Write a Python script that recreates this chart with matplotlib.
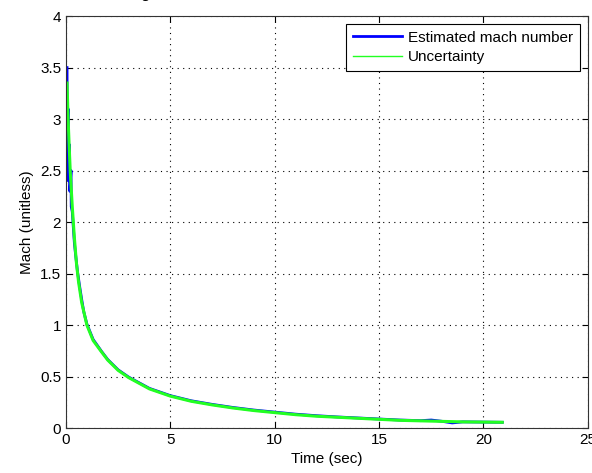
import matplotlib
matplotlib.use('Agg')
import matplotlib.pyplot as plt

plt.rcParams['font.family'] = ['Liberation Sans', 'DejaVu Sans']

# estimated mach number (blue)
t_est = [0.05, 0.06, 0.1, 0.11, 0.17, 0.18, 0.24, 0.25, 0.3, 0.35, 0.4, 0.45, 0.55, 0.65,
         0.75, 0.85, 1.0, 1.3, 1.7, 2.0, 2.5, 3.0, 4.0, 5.0, 6.0, 7.0, 8.0, 9.0, 10.0, 11.0,
         12.0, 13.0, 14.0, 15.0, 16.0, 17.0, 17.5, 18.0, 18.5, 19.0, 20.0, 20.9]
mach_est = [3.5, 2.65, 3.1, 2.4, 2.75, 2.3, 2.5, 2.15, 2.1, 1.95, 1.8, 1.7, 1.52, 1.38,
            1.25, 1.13, 1.01, 0.86, 0.745, 0.665, 0.565, 0.495, 0.385, 0.315, 0.265, 0.23,
            0.2, 0.175, 0.155, 0.135, 0.12, 0.108, 0.098, 0.088, 0.078, 0.072, 0.078, 0.066,
            0.05, 0.06, 0.058, 0.056]

# uncertainty (green)
t_unc = [0.05, 0.1, 0.15, 0.2, 0.3, 0.4, 0.5, 0.6, 0.75, 1.0, 1.3, 1.7, 2.0, 2.5, 3.0, 4.0,
         5.0, 6.0, 7.0, 8.0, 9.0, 10.0, 11.0, 12.0, 13.0, 14.0, 15.0, 16.0, 17.0, 18.0,
         19.0, 20.0, 20.9]
mach_unc = [3.35, 3.0, 2.75, 2.5, 2.15, 1.85, 1.6, 1.42, 1.22, 1.0, 0.85, 0.74, 0.66, 0.56,
            0.49, 0.38, 0.31, 0.26, 0.225, 0.195, 0.17, 0.15, 0.13, 0.115, 0.105, 0.095,
            0.085, 0.075, 0.07, 0.065, 0.06, 0.058, 0.056]

fig = plt.figure(figsize=(5.92, 4.73), dpi=100)
ax = fig.add_axes([0.1115, 0.095, 0.8815, 0.871])

ax.plot(t_est, mach_est, color='#0000ff', lw=2, label='Estimated mach number')
ax.plot(t_unc, mach_unc, color='#22ff22', lw=2.2, label='Uncertainty')

ax.set_xlim(0, 25)
ax.set_ylim(0, 4)
ax.set_xticks([0, 5, 10, 15, 20, 25])
ax.set_yticks([0, 0.5, 1, 1.5, 2, 2.5, 3, 3.5, 4])
ax.set_yticklabels(['0', '0.5', '1', '1.5', '2', '2.5', '3', '3.5', '4'])
ax.grid(True, color='black', linestyle=(0, (1, 4)), linewidth=0.8)
ax.tick_params(direction='in', top=True, right=True, labelsize=11, length=4)
for s in ax.spines.values():
    s.set_color('#333333')
ax.set_xlabel('Time (sec)', fontsize=11, labelpad=4)
ax.set_ylabel('Mach (unitless)', fontsize=11, labelpad=4)

leg = ax.legend(loc='upper right', fontsize=11, fancybox=False, framealpha=1,
                edgecolor='black', handlelength=3.2, borderaxespad=0.5,
                labelspacing=0.35, borderpad=0.45, handletextpad=0.4)
leg.get_frame().set_linewidth(0.8)
leg.get_lines()[1].set_linewidth(1.0)

fig.text(0.245, 1.004, 'g', ha='center', va='baseline', fontsize=12)

fig.savefig('out.png', dpi=100)
